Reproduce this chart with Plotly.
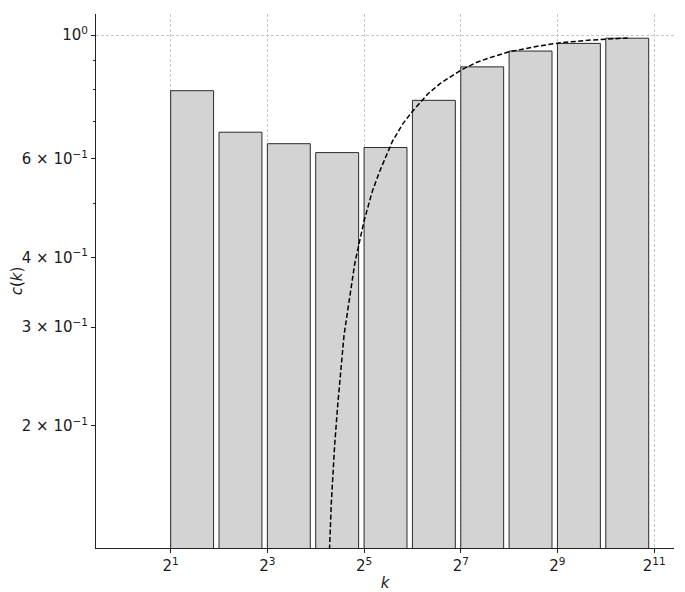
import plotly.graph_objects as go

# Data
bin_left = [2, 4, 8, 16, 32, 64, 128, 256, 512, 1024]
bar_values = [0.795, 0.670, 0.639, 0.616, 0.629, 0.764, 0.877, 0.936, 0.966, 0.987]
bar_width_frac = 0.85

curve_k = [19.5, 20, 21, 22, 24, 26, 28, 32, 36, 40, 48, 56, 64, 80, 96, 128, 160, 192, 256, 384, 512, 768, 1024, 1400]
curve_c = [0.12, 0.145, 0.185, 0.22, 0.29, 0.34, 0.39, 0.465, 0.525, 0.57, 0.645, 0.695, 0.73, 0.785, 0.82, 0.865, 0.893, 0.91, 0.933, 0.955, 0.967, 0.978, 0.983, 0.988]

x_tick_vals = [2, 8, 32, 128, 512, 2048]
x_tick_text = ["2<sup>1</sup>", "2<sup>3</sup>", "2<sup>5</sup>", "2<sup>7</sup>", "2<sup>9</sup>", "2<sup>11</sup>"]
y_tick_vals = [1, 0.6, 0.4, 0.3, 0.2]
y_tick_text = ["10<sup>0</sup>", "6 × 10<sup>−1</sup>", "4 × 10<sup>−1</sup>", "3 × 10<sup>−1</sup>", "2 × 10<sup>−1</sup>"]
y_minor_vals = [0.9, 0.8, 0.7, 0.5]

FONT = "DejaVu Sans"
y_range = [-0.918, 0.0376]
x_range = [-0.164, 3.435]
y_floor = 0.05
GRID = "#c8c8c8"

fig = go.Figure()
for left, v in zip(bin_left, bar_values):
    right = left * (1 + bar_width_frac)
    fig.add_trace(go.Scatter(
        x=[left, left, right, right, left],
        y=[y_floor, v, v, y_floor, y_floor],
        mode="lines", fill="toself", fillcolor="#d3d3d3",
        line=dict(color="#2a2a2a", width=1),
        hoverinfo="skip", showlegend=False,
    ))

fig.add_trace(go.Scatter(
    x=curve_k, y=curve_c, mode="lines", yaxis="y2",
    line=dict(color="black", width=1.5, dash="5px,2.5px"),
    showlegend=False,
))

fig.update_layout(
    width=677, height=584,
    margin=dict(l=88, r=11, t=6, b=44),
    paper_bgcolor="white", plot_bgcolor="white",
    font=dict(family=FONT, size=15, color="#1a1a1a"),
    xaxis=dict(
        type="log", range=x_range, automargin=False,
        tickvals=x_tick_vals, ticktext=x_tick_text,
        ticks="outside", ticklen=4, tickwidth=1, tickcolor="#222",
        showgrid=True, gridcolor=GRID, gridwidth=0.8, griddash="3px,2px",
        showline=True, linecolor="#222", linewidth=1,
        zeroline=False,
        title=dict(text="<i>k</i>", standoff=4, font=dict(size=15)),
    ),
    yaxis=dict(
        type="log", range=y_range, automargin=False,
        tickvals=y_tick_vals, ticktext=y_tick_text,
        ticks="outside", ticklen=4, tickwidth=1, tickcolor="#222",
        minor=dict(tickvals=y_minor_vals, ticks="outside", ticklen=2.5, tickwidth=0.8, tickcolor="#222", showgrid=False),
        showgrid=False,
        showline=True, linecolor="#222", linewidth=1,
        zeroline=False,
        title=dict(text="<i>c</i>(<i>k</i>)", standoff=9, font=dict(size=15)),
    ),
    yaxis2=dict(
        type="log", range=y_range, overlaying="y", automargin=False,
        tickvals=[1], showticklabels=False, ticks="",
        showgrid=True, gridcolor=GRID, gridwidth=0.8, griddash="3px,2px",
        showline=False, zeroline=False,
    ),
)

fig.write_html("out.html")
